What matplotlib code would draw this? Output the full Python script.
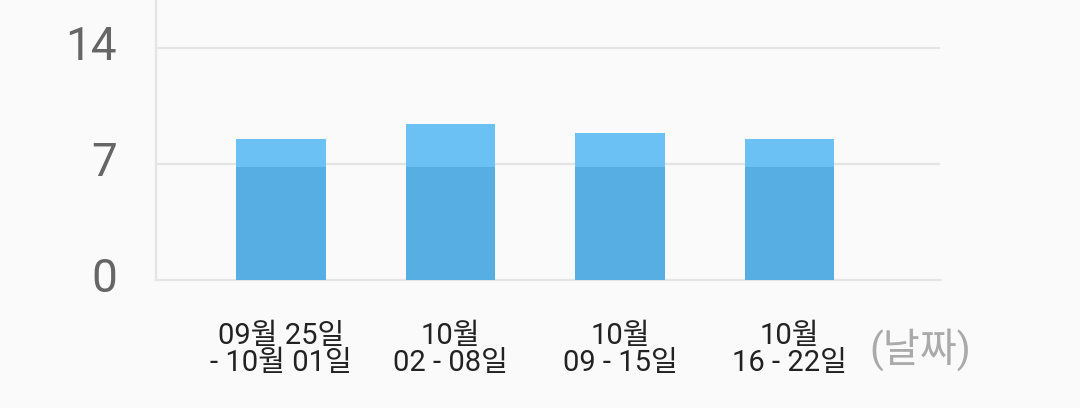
import matplotlib
matplotlib.use('Agg')
import matplotlib.pyplot as plt
import matplotlib.transforms as mtransforms
import numpy as np

# weekly values
WEEKS = ['09월 25일\n- 10월 01일', '10월\n02 - 08일', '10월\n09 - 15일', '10월\n16 - 22일']
VALUES = [8.5, 9.4, 8.85, 8.5]
BASE_LEVEL = 6.85
Y_TICKS = [0, 7, 14]
UNIT_LABEL = '(날짜)'

FONTS = ['Roboto', 'Noto Sans CJK KR', 'DejaVu Sans']
plt.rcParams['font.family'] = FONTS

BG = '#fafafa'
GRID = '#e4e4e4'
DARK = '#57aee2'
LIGHT = '#6bc1f4'

fig = plt.figure(figsize=(10.8, 4.08), dpi=100, facecolor=BG)
ax = fig.add_axes([156 / 1080, 1 - 280 / 408, (940 - 156) / 1080, 280 / 408])
ax.set_facecolor(BG)

x = np.arange(len(WEEKS))
vals = np.array(VALUES)
lower = np.minimum(vals, BASE_LEVEL)
upper = vals - lower
ax.bar(x, lower, width=0.53, color=DARK, zorder=3)
ax.bar(x, upper, bottom=lower, width=0.53, color=LIGHT, zorder=3)

ax.set_xlim(-0.737, 3.888)
ax.set_ylim(0, 16.9)
ax.set_yticks(Y_TICKS)
ax.set_yticklabels([])
# y labels drawn by hand so they sit a bit above the grid lines
shift = mtransforms.ScaledTranslation(0, -0.12, fig.dpi_scale_trans)
for t in Y_TICKS:
    ax.text(-0.0497, t, str(t), transform=ax.get_yaxis_transform() + shift,
            fontsize=33, color='#666666', ha='right', va='baseline')
for t in Y_TICKS[1:]:
    ax.axhline(t, color=GRID, lw=1.6, zorder=1)

ax.set_xticks(x)
ax.set_xticklabels(WEEKS, fontsize=21, color='#222222', linespacing=0.95)
ax.tick_params(axis='both', length=0)
ax.tick_params(axis='x', pad=30)

for side in ['top', 'right']:
    ax.spines[side].set_visible(False)
for side in ['left', 'bottom']:
    ax.spines[side].set_color(GRID)
    ax.spines[side].set_linewidth(1.6)

fig.text(920 / 1080, 1 - 350 / 408, UNIT_LABEL, fontsize=29, color='#aaaaaa',
         ha='center', va='center')

fig.savefig('out.png', dpi=100, facecolor=BG)
